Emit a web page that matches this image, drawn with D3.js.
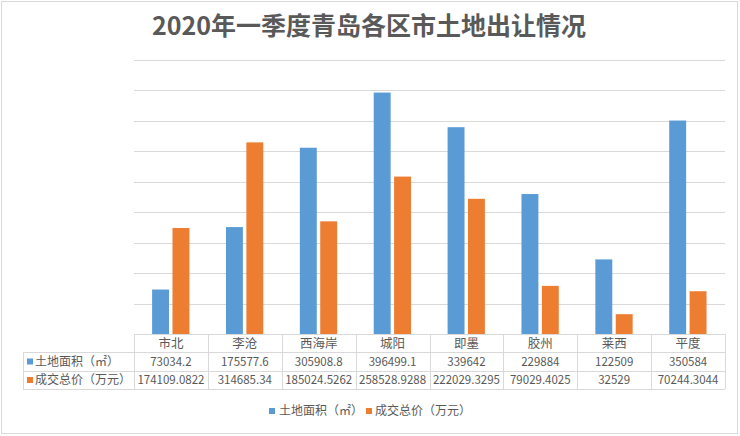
<!DOCTYPE html>
<html><head><meta charset="utf-8">
<script src="https://cdn.jsdelivr.net/npm/d3@7"></script>
<style>body{margin:0;background:#fff}svg{display:block}text{font-family:"Noto Sans CJK SC","Noto Sans",sans-serif;fill:#595959}</style>
</head><body>
<script>
const categories = ["市北","李沧","西海岸","城阳","即墨","胶州","莱西","平度"];
const seriesNames = ["土地面积（㎡）","成交总价（万元）"];
const landArea = [73034.2,175577.6,305908.8,396499.1,339642,229884,122509,350584];
const landAreaLabels = ["73034.2","175577.6","305908.8","396499.1","339642","229884","122509","350584"];
const totalPrice = [174109.0822,314685.34,185024.5262,258528.9288,222029.3295,79029.4025,32529,70244.3044];
const totalPriceLabels = ["174109.0822","314685.34","185024.5262","258528.9288","222029.3295","79029.4025","32529","70244.3044"];
const yTicks = [50000,100000,150000,200000,250000,300000,350000,400000,450000];
const colors = ["#5B9BD5","#ED7D31"];

const W=740,H=436;
const svg=d3.select("body").append("svg").attr("width",W).attr("height",H);
svg.append("rect").attr("x",1.5).attr("y",1.5).attr("width",736).attr("height",432).attr("fill","#fff").attr("stroke","#d9d9d9");

svg.append("text").attr("x",369).attr("y",35).attr("text-anchor","middle")
  .style("font-size","25px").style("font-weight","bold").text("2020年一季度青岛各区市土地出让情况");

const x=d3.scaleBand().domain(categories).range([134,725]).padding(0);
const y=d3.scaleLinear().domain([0,450000]).range([334,60]);
const cw=x.bandwidth();
const xi=d3.scaleBand().domain([0,1]).range([cw*0.245,cw*0.75]).paddingInner(0.17);

svg.append("g").selectAll("line").data(yTicks).join("line")
  .attr("x1",134).attr("x2",725).attr("y1",d=>Math.round(y(d))+0.5).attr("y2",d=>Math.round(y(d))+0.5)
  .attr("stroke","#d9d9d9").attr("stroke-width",1);

const series=[landArea,totalPrice];
series.forEach((vals,si)=>{
  svg.append("g").selectAll("rect").data(vals).join("rect")
    .attr("x",(d,i)=>x(categories[i])+xi(si))
    .attr("width",xi.bandwidth())
    .attr("y",d=>y(d)).attr("height",d=>y(0)-y(d))
    .attr("fill",colors[si]);
});

// table
const rows=[334,352,371,389];
const tg=svg.append("g").attr("stroke","#d9d9d9").attr("stroke-width",1);
tg.append("line").attr("x1",134).attr("x2",725).attr("y1",rows[0]+0.5).attr("y2",rows[0]+0.5);
[1,2,3].forEach(r=>tg.append("line").attr("x1",23).attr("x2",725).attr("y1",rows[r]+0.5).attr("y2",rows[r]+0.5));
tg.append("line").attr("x1",23.5).attr("x2",23.5).attr("y1",rows[1]).attr("y2",rows[3]);
categories.forEach(c=>tg.append("line").attr("x1",Math.round(x(c))+0.5).attr("x2",Math.round(x(c))+0.5).attr("y1",rows[0]).attr("y2",rows[3]));
tg.append("line").attr("x1",725.5).attr("x2",725.5).attr("y1",rows[0]).attr("y2",rows[3]);

svg.append("g").selectAll("text").data(categories).join("text")
  .attr("x",d=>x(d)+cw/2).attr("y",(rows[0]+rows[1])/2+4.5).attr("text-anchor","middle")
  .style("font-size","12.5px").text(d=>d);

[landAreaLabels,totalPriceLabels].forEach((labs,si)=>{
  const cy=(rows[si+1]+rows[si+2])/2+4;
  svg.append("g").selectAll("text").data(labs).join("text")
    .attr("x",(d,i)=>x(categories[i])+cw/2).attr("y",cy).attr("text-anchor","middle")
    .style("font-size","11.5px").text(d=>d);
  svg.append("rect").attr("x",27).attr("y",cy-7).attr("width",6).attr("height",6).attr("fill",colors[si]);
  svg.append("text").attr("x",35).attr("y",cy).style("font-size","12px").text(seriesNames[si]);
});

// legend
const lg=svg.append("g");
lg.append("rect").attr("x",269).attr("y",408).attr("width",6).attr("height",6).attr("fill",colors[0]);
lg.append("text").attr("x",279).attr("y",415).style("font-size","12px").text(seriesNames[0]);
lg.append("rect").attr("x",366).attr("y",408).attr("width",6).attr("height",6).attr("fill",colors[1]);
lg.append("text").attr("x",375).attr("y",415).style("font-size","12px").text(seriesNames[1]);
</script>
</body></html>
